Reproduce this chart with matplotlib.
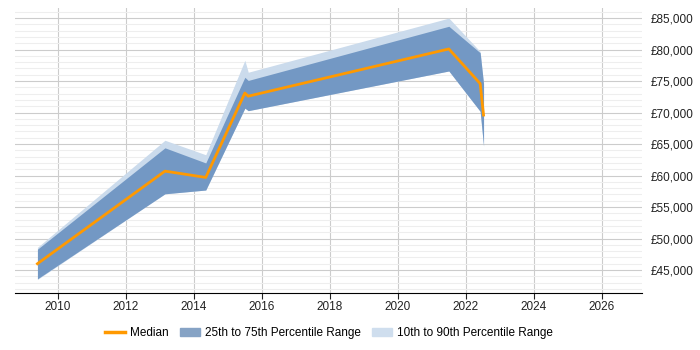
import matplotlib
matplotlib.use("Agg")
import matplotlib.pyplot as plt
from matplotlib.ticker import MultipleLocator, FuncFormatter
from matplotlib.patches import Patch
from matplotlib.lines import Line2D

plt.rcParams['font.family'] = ['Liberation Sans', 'DejaVu Sans']

years = [2009.4, 2013.15, 2014.35, 2015.5, 2015.6, 2021.5, 2022.42, 2022.52]
median = [46000, 60700, 59700, 73100, 72600, 80100, 74600, 69600]
p25 = [43600, 57100, 57700, 70700, 70300, 76600, 70200, 64700]
p75 = [48300, 64400, 62000, 75600, 75100, 83700, 79500, 74600]
p10 = [43500, 57100, 57700, 70700, 70300, 76600, 70200, 64700]
p90 = [48600, 65600, 63300, 78300, 76400, 85000, 79700, 74600]
x_ticks = [2010, 2012, 2014, 2016, 2018, 2020, 2022, 2024, 2026]
y_ticks = [45000, 50000, 55000, 60000, 65000, 70000, 75000, 80000, 85000]

fig = plt.figure(figsize=(7, 3.5), dpi=100)
ax = fig.add_axes([15/700, 57/350, 627/700, 285/350])

light = '#cbdbec'
dark = '#7398c4'
orange = '#ff9900'

ax.fill_between(years, p10, p90, color=light, lw=0, zorder=2)
ax.fill_between(years, p25, p75, color=dark, lw=0, zorder=3)
ax.plot(years, median, color=orange, lw=2, zorder=4)

ax.set_xlim(2008.74, 2027.18)
ax.set_ylim(41350, 86600)
ax.set_xticks(x_ticks)
ax.set_yticks(y_ticks)
ax.yaxis.set_minor_locator(MultipleLocator(1000))
ax.yaxis.tick_right()
ax.yaxis.set_major_formatter(FuncFormatter(lambda v, p: '£{:,.0f}'.format(v)))
ax.grid(axis='y', which='major', color='#cccccc', lw=0.8, zorder=0)
ax.grid(axis='y', which='minor', color='#eeeeee', lw=0.8, zorder=0)
ax.grid(axis='x', which='major', color='#cccccc', lw=0.8, zorder=0)
ax.set_axisbelow(True)
for s in ['top', 'left', 'right']:
    ax.spines[s].set_visible(False)
ax.spines['bottom'].set_color('#000000')
ax.tick_params(axis='y', which='both', length=0, labelsize=8.5, pad=6, colors='#222222')
ax.tick_params(axis='x', length=4, labelsize=8.5, pad=2, colors='#222222')

handles = [Line2D([0], [0], color=orange, lw=2.5),
           Patch(color='#86a3c5'), Patch(color='#cfdeee')]
labels = ['Median', '25th to 75th Percentile Range', '10th to 90th Percentile Range']
fig.legend(handles, labels, loc='center', bbox_to_anchor=(329/700, 17/350), ncol=3,
           frameon=False, fontsize=8.5, handlelength=1.7, columnspacing=0.9, handletextpad=0.45)

fig.savefig('out.png', dpi=100)
